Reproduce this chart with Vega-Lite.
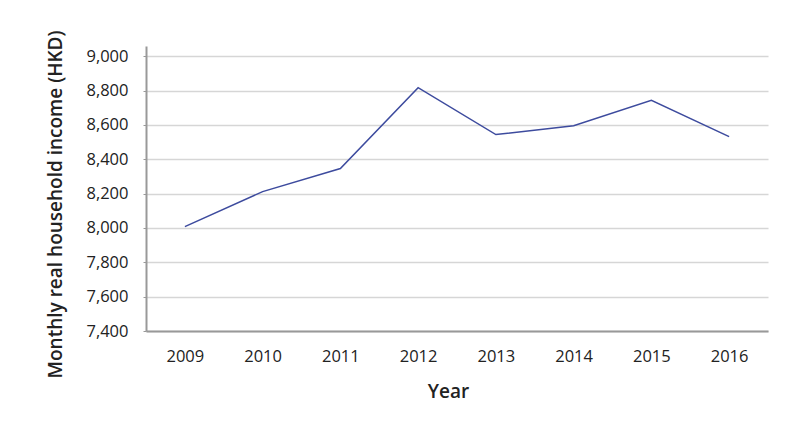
{
  "$schema": "https://vega.github.io/schema/vega-lite/v6.json",
  "width": 622,
  "height": 285,
  "autosize": {"type": "none"},
  "padding": {"left": 146, "top": 46, "right": 42, "bottom": 102},
  "background": "white",
  "config": {
    "view": {"stroke": null},
    "font": "Open Sans"
  },
  "data": {
    "values": [
      {"year": "2009", "income": 8008},
      {"year": "2010", "income": 8212},
      {"year": "2011", "income": 8346},
      {"year": "2012", "income": 8817},
      {"year": "2013", "income": 8544},
      {"year": "2014", "income": 8596},
      {"year": "2015", "income": 8744},
      {"year": "2016", "income": 8532}
    ]
  },
  "mark": {"type": "line", "color": "#3d4b9e", "strokeWidth": 1.5},
  "encoding": {
    "x": {
      "field": "year",
      "type": "ordinal",
      "scale": {"type": "point", "padding": 0.5},
      "axis": {
        "title": "Year",
        "titleFont": "Open Sans",
        "titleFontSize": 19,
        "titleFontWeight": 600,
        "titleColor": "#222",
        "titlePadding": 18,
        "titleX": 302,
        "labelAngle": 0,
        "labelFont": "Open Sans",
        "labelFontSize": 16.5,
        "labelColor": "#222",
        "labelPadding": 17,
        "ticks": false,
        "domainColor": "#999",
        "domainWidth": 2,
        "grid": false
      }
    },
    "y": {
      "field": "income",
      "type": "quantitative",
      "scale": {"domain": [7400, 9060], "nice": false, "zero": false},
      "axis": {
        "title": "Monthly real household income (HKD)",
        "titleFont": "Open Sans",
        "titleFontSize": 19,
        "titleFontWeight": 600,
        "titleColor": "#222",
        "titlePadding": 20,
        "titleY": 158,
        "values": [7400, 7600, 7800, 8000, 8200, 8400, 8600, 8800, 9000],
        "format": ",.0f",
        "labelFont": "Open Sans",
        "labelFontSize": 16.5,
        "labelColor": "#222",
        "labelPadding": 15,
        "tickSize": 3,
        "tickColor": "#999",
        "domainColor": "#999",
        "domainWidth": 2,
        "grid": true,
        "gridColor": "#d6d6d6",
        "gridWidth": 1.5
      }
    }
  }
}
